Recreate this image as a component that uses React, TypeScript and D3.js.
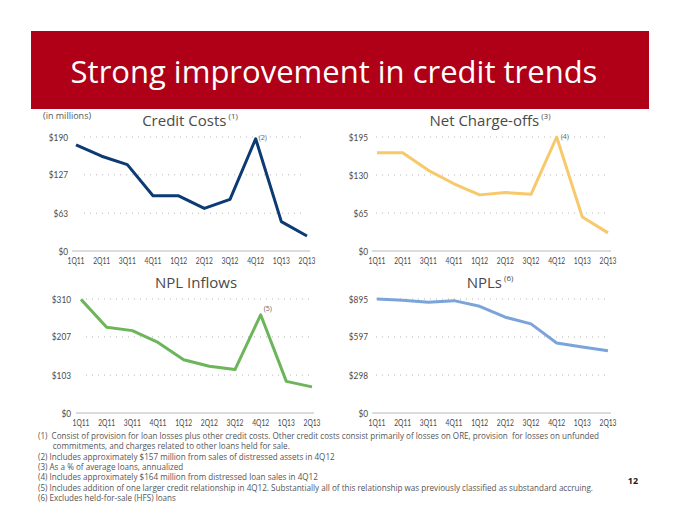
import React from "react";
import * as d3 from "d3";

const quarters = ["1Q11", "2Q11", "3Q11", "4Q11", "1Q12", "2Q12", "3Q12", "4Q12", "1Q13", "2Q13"];

const creditCosts = [177, 158, 144, 92, 92, 71, 86, 187, 49, 25];
const netChargeOffs = [168, 168, 138, 115, 96, 100, 97, 195, 58, 31];
const nplInflows = [309, 233, 224, 192, 145, 127, 118, 267, 86, 71];
const npls = [895, 885, 869, 882, 838, 752, 700, 550, 519, 488];

const creditTicks = [0, 63, 127, 190];
const ncoTicks = [0, 65, 130, 195];
const inflowTicks = [0, 103, 207, 310];
const nplTicks = [0, 298, 597, 895];

const footnotes = [
  "(1)  Consist of provision for loan losses plus other credit costs. Other credit costs consist primarily of losses on ORE, provision  for losses on unfunded",
  "       commitments, and charges related to other loans held for sale.",
  "(2) Includes approximately $157 million from sales of distressed assets in 4Q12",
  "(3) As a % of average loans, annualized",
  "(4) Includes approximately $164 million from distressed loan sales in 4Q12",
  "(5) Includes addition of one larger credit relationship in 4Q12. Substantially all of this relationship was previously classified as substandard accruing.",
  "(6) Excludes held-for-sale (HFS) loans",
];

const FONT = "'Open Sans', 'DejaVu Sans', sans-serif";
const LFONT = "Lato, 'Open Sans', sans-serif";

type PanelProps = {
  values: number[];
  ticks: number[];
  color: string;
  x0: number;
  x1: number;
  yTop: number;
  yBottom: number;
  labelRight: number;
  gridStart: number;
  gridEnd: number;
  axisStart: number;
  axisEnd: number;
  title: string;
  titleSup?: string;
  titleX: number;
  titleY: number;
  note?: string;
  noteIndex?: number;
  noteDx?: number;
  noteDy?: number;
};

function Panel(p: PanelProps) {
  const x = d3.scalePoint<string>().domain(quarters).range([p.x0, p.x1]);
  const y = d3.scaleLinear().domain([0, p.ticks[p.ticks.length - 1]]).range([p.yBottom, p.yTop]);
  const line = d3
    .line<number>()
    .x((_, i) => x(quarters[i]) as number)
    .y((d) => y(d));
  const ni = p.noteIndex ?? 7;
  return (
    <g>
      <text x={p.titleX} y={p.titleY} textAnchor="middle" fontSize={15} fill="#4a4a4a" fontFamily={FONT}>
        {p.title}
        {p.titleSup ? (
          <tspan fontSize={8} dy={-7}>
            {" " + p.titleSup}
          </tspan>
        ) : null}
      </text>
      {p.ticks.map((t) => {
        const lab = "$" + t;
        return (
          <g key={t}>
            {t > 0 ? (
              <line
                x1={p.gridStart}
                x2={p.gridEnd}
                y1={y(t)}
                y2={y(t)}
                stroke="#b5b5b5"
                strokeWidth={1}
                strokeDasharray="1 5"
              />
            ) : (
              <line x1={p.axisStart} x2={p.axisEnd} y1={y(t)} y2={y(t)} stroke="#b8b8b8" strokeWidth={1} />
            )}
            <text
              x={p.labelRight}
              y={y(t)}
              dy="0.35em"
              textAnchor="end"
              fontSize={10}
              fill="#4a4a4a"
              fontFamily={LFONT}
              textLength={lab.length * 4.8}
              lengthAdjust="spacingAndGlyphs"
            >
              {lab}
            </text>
          </g>
        );
      })}
      {quarters.map((q) => (
        <text
          key={q}
          x={x(q)}
          y={p.yBottom + 12.5}
          textAnchor="middle"
          fontSize={10}
          fill="#4a4a4a"
          fontFamily={LFONT}
          textLength={17}
          lengthAdjust="spacingAndGlyphs"
        >
          {q}
        </text>
      ))}
      <path d={line(p.values) || ""} fill="none" stroke={p.color} strokeWidth={3} strokeLinejoin="round" />
      {p.note ? (
        <text
          x={(x(quarters[ni]) as number) + (p.noteDx ?? 3)}
          y={y(p.values[ni]) + (p.noteDy ?? 0)}
          fontSize={7}
          fill="#666"
          fontFamily={FONT}
        >
          {p.note}
        </text>
      ) : null}
    </g>
  );
}

export default function App() {
  return (
    <svg width={680} height={525} style={{ display: "block", position: "absolute", left: 0, top: 0 }}>
      <rect x={0} y={0} width={680} height={525} fill="#fff" />
      <rect x={31} y={31} width={618} height={78} fill="#b00018" />
      <text x={334} y={83} textAnchor="middle" fontSize={31} fill="#fff" fontFamily={FONT}>
        Strong improvement in credit trends
      </text>
      <text x={43} y={119} fontSize={9} fill="#555" fontFamily={FONT}>
        (in millions)
      </text>

      <Panel
        values={creditCosts}
        ticks={creditTicks}
        color="#0c3a73"
        x0={76}
        x1={307}
        yTop={137}
        yBottom={251}
        labelRight={68}
        gridStart={84}
        gridEnd={306}
        axisStart={72}
        axisEnd={310}
        title="Credit Costs"
        titleSup="(1)"
        titleX={190}
        titleY={126}
        note="(2)"
        noteDx={3}
        noteDy={1}
      />
      <Panel
        values={netChargeOffs}
        ticks={ncoTicks}
        color="#f7c96b"
        x0={377}
        x1={608}
        yTop={137}
        yBottom={251}
        labelRight={368}
        gridStart={376}
        gridEnd={607}
        axisStart={372}
        axisEnd={611}
        title="Net Charge-offs"
        titleSup="(3)"
        titleX={490}
        titleY={126}
        note="(4)"
        noteDx={4}
        noteDy={2}
      />
      <Panel
        values={nplInflows}
        ticks={inflowTicks}
        color="#6cb55b"
        x0={81}
        x1={312}
        yTop={299}
        yBottom={413}
        labelRight={71}
        gridStart={86}
        gridEnd={312}
        axisStart={76}
        axisEnd={314}
        title="NPL Inflows"
        titleX={196}
        titleY={288}
        note="(5)"
        noteDx={3}
        noteDy={-4}
      />
      <Panel
        values={npls}
        ticks={nplTicks}
        color="#7ba4da"
        x0={377}
        x1={608}
        yTop={299}
        yBottom={413}
        labelRight={368}
        gridStart={376}
        gridEnd={607}
        axisStart={372}
        axisEnd={611}
        title="NPLs"
        titleSup="(6)"
        titleX={490}
        titleY={288}
      />

      {footnotes.map((f, i) => (
        <text
          key={i}
          x={38}
          y={439 + i * 10.3}
          fontSize={8.1}
          fill="#555"
          fontFamily={FONT}
          style={{ whiteSpace: "pre" }}
        >
          {f}
        </text>
      ))}
      <text x={633} y={484} textAnchor="middle" fontSize={9} fontWeight="bold" fill="#222" fontFamily={FONT}>
        12
      </text>
    </svg>
  );
}
